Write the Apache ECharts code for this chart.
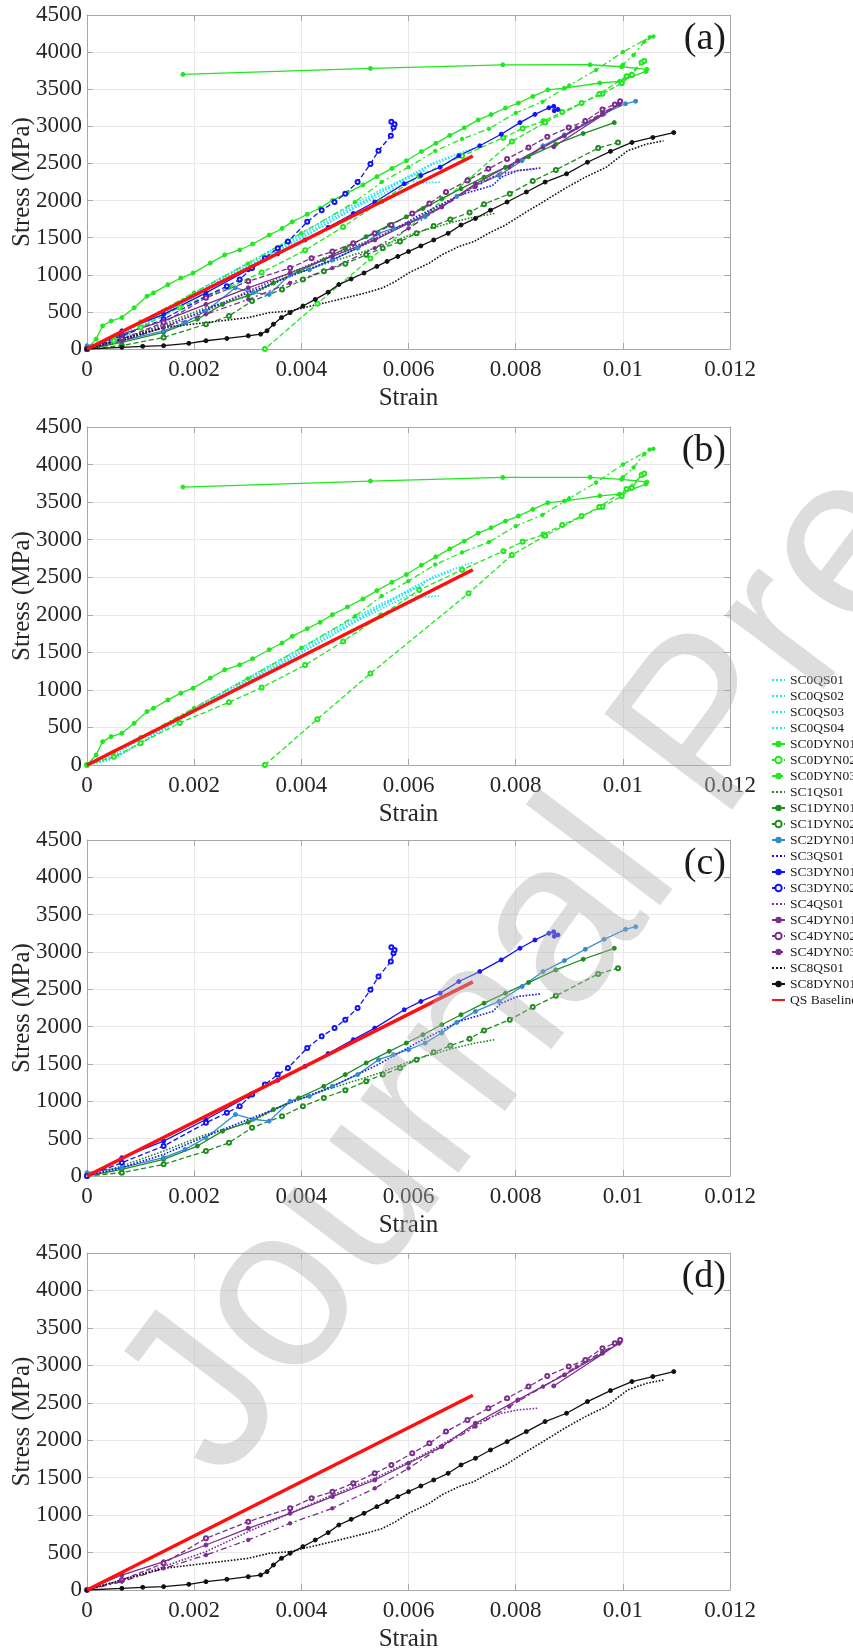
<!DOCTYPE html>
<html>
<head>
<meta charset="utf-8">
<script src="https://cdn.jsdelivr.net/npm/echarts@6/dist/echarts.min.js"></script>
<style>
html,body{margin:0;padding:0;background:#fff;}
#chart{width:853px;height:1651px;}
.warm{position:absolute;left:-9999px;top:0;font-size:23px;}
</style>
</head>
<body>
<div class="warm" style="font-family:'Liberation Serif'">Strain 0.012 Stress (MPa) SC0DYN01 (a)</div>
<div class="warm" style="font-family:'Liberation Sans'">Journal Pre-proof</div>
<div id="chart"></div>
<script>
const xTickValues = [0,0.002,0.004,0.006,0.008,0.01,0.012];
const xTickLabels = ['0','0.002','0.004','0.006','0.008','0.01','0.012'];
const yTickValues = [0,500,1000,1500,2000,2500,3000,3500,4000,4500];
const yTickLabels = ['0','500','1000','1500','2000','2500','3000','3500','4000','4500'];
const panelLabels = ['(a)','(b)','(c)','(d)'];
const seriesNames = ['SC0QS01','SC0QS02','SC0QS03','SC0QS04','SC0DYN01','SC0DYN02','SC0DYN03',
  'SC1QS01','SC1DYN01','SC1DYN02','SC2DYN01','SC3QS01','SC3DYN01','SC3DYN02',
  'SC4QS01','SC4DYN01','SC4DYN02','SC4DYN03','SC8QS01','SC8DYN01','QS Baseline'];

const SC0QS01 = [[0,0],[0.0004,60],[0.0008,210],[0.0012,390],[0.0016,560],[0.002,740],[0.0025,940],[0.003,1130],[0.0035,1330],[0.004,1530],[0.0045,1730],[0.005,1930],[0.0055,2120],[0.006,2330],[0.0065,2520],[0.0072,2700]];
const SC0QS02 = [[0,0],[0.0005,90],[0.001,290],[0.0015,510],[0.002,710],[0.0025,910],[0.003,1110],[0.0035,1300],[0.004,1500],[0.0045,1700],[0.005,1900],[0.0055,2080],[0.006,2260],[0.0063,2240],[0.0066,2250]];
const SC0QS03 = [[0,0],[0.0006,120],[0.0012,380],[0.0018,630],[0.0024,870],[0.003,1100],[0.0036,1340],[0.0042,1570],[0.0048,1820],[0.0054,2080],[0.006,2300],[0.0064,2470],[0.0068,2580]];
const SC0QS04 = [[0,0],[0.0005,130],[0.001,340],[0.0015,550],[0.002,760],[0.0025,960],[0.003,1160],[0.0035,1360],[0.004,1560],[0.0045,1760],[0.005,1960],[0.0055,2150],[0.006,2320],[0.0063,2400]];
const SC0DYN01 = [[0,0],[0.00017,133],[0.00029,311],[0.00045,378],[0.00065,423],[0.00088,556],[0.00112,712],[0.00124,756],[0.00151,867],[0.00175,956],[0.00198,1023],[0.0023,1157],[0.00257,1268],[0.00285,1334],[0.00309,1415],[0.0034,1535],[0.00364,1624],[0.00383,1713],[0.00411,1815],[0.00435,1900],[0.00458,2002],[0.00486,2104],[0.00515,2211],[0.00541,2322],[0.00569,2433],[0.00596,2536],[0.00624,2660],[0.00651,2771],[0.00677,2878],[0.00704,2980],[0.0073,3087],[0.00754,3158],[0.00781,3247],[0.00805,3314],[0.00832,3403],[0.0086,3492],[0.00891,3514],[0.00957,3584],[0.00994,3606],[0.01043,3740],[0.01045,3768],[0.00998,3803],[0.00939,3830],[0.00776,3829],[0.00529,3780],[0.00179,3700]];
const SC0DYN02 = [[0,0],[0.0005,110],[0.001,290],[0.00173,560],[0.00265,835],[0.00326,1031],[0.00407,1330],[0.00478,1645],[0.00549,1990],[0.0062,2330],[0.007,2600],[0.00777,2847],[0.00813,2972],[0.00852,3069],[0.00887,3194],[0.00923,3314],[0.00962,3438],[0.00998,3581],[0.01017,3692],[0.01035,3860],[0.0104,3880],[0.01007,3674],[0.00956,3436],[0.00855,3052],[0.00793,2796],[0.00712,2285],[0.00529,1219],[0.0043,610],[0.00332,0]];
const SC0DYN03 = [[0,0],[0.0005,170],[0.001,370],[0.002,760],[0.003,1150],[0.004,1560],[0.005,1980],[0.0055,2250],[0.006,2450],[0.0065,2668],[0.007,2830],[0.0075,2967],[0.008,3180],[0.0085,3330],[0.009,3550],[0.0095,3760],[0.01,4000],[0.0105,4200],[0.01057,4210],[0.0104,4140],[0.0102,3960],[0.01,3830]];
const SC1QS01 = [[0,0],[0.00065,134],[0.00143,334],[0.00222,557],[0.00301,712],[0.00379,988],[0.00458,1180],[0.00537,1358],[0.00615,1567],[0.00678,1700],[0.00725,1781],[0.00761,1826]];
const SC1DYN01 = [[0,0],[0.00065,89],[0.00143,223],[0.00206,401],[0.00253,601],[0.00301,721],[0.00348,890],[0.00395,1046],[0.00442,1202],[0.00482,1358],[0.00521,1514],[0.00564,1670],[0.00596,1781],[0.00627,1892],[0.00662,2026],[0.00698,2160],[0.00741,2315],[0.00781,2449],[0.00824,2591],[0.00875,2760],[0.00926,2903],[0.00984,3050]];
const SC1DYN02 = [[0,0],[0.00065,45],[0.00143,156],[0.00222,334],[0.00265,445],[0.00308,646],[0.00364,801],[0.00403,935],[0.00442,1046],[0.00482,1149],[0.00521,1269],[0.00552,1358],[0.00584,1447],[0.00615,1558],[0.00647,1656],[0.00678,1745],[0.00714,1839],[0.00741,1950],[0.00789,2093],[0.00832,2262],[0.00875,2413],[0.00954,2707],[0.00991,2783]];
const SC2DYN01 = [[0,45],[0.00065,111],[0.00143,245],[0.00183,356],[0.00222,512],[0.00277,824],[0.0031,760],[0.0034,735],[0.00379,1002],[0.00415,1068],[0.00458,1202],[0.00505,1358],[0.00544,1558],[0.00572,1625],[0.006,1692],[0.00631,1781],[0.00662,1915],[0.0069,2057],[0.00725,2204],[0.00769,2338],[0.00812,2538],[0.00851,2738],[0.00891,2885],[0.0093,3037],[0.00965,3170],[0.01005,3304],[0.01024,3339]];
const SC3QS01 = [[0,0],[0.00065,111],[0.00143,289],[0.00222,534],[0.00301,757],[0.0038,980],[0.00458,1202],[0.0054,1480],[0.00615,1781],[0.00694,2070],[0.00757,2204],[0.00773,2315],[0.00804,2404],[0.00847,2440]];
const SC3DYN01 = [[0,0],[0.00065,245],[0.00143,467],[0.00222,757],[0.00301,1068],[0.00356,1282],[0.00407,1469],[0.0045,1639],[0.00497,1826],[0.00537,1981],[0.00592,2226],[0.00623,2338],[0.00659,2449],[0.00694,2605],[0.00733,2738],[0.00773,2894],[0.00808,3050],[0.00836,3161],[0.00862,3250],[0.00871,3270],[0.00879,3228],[0.00872,3210]];
const SC3DYN02 = [[0,0],[0.00065,178],[0.00143,401],[0.00222,712],[0.00261,846],[0.00285,935],[0.00308,1091],[0.00332,1224],[0.00356,1358],[0.00375,1447],[0.00411,1714],[0.00438,1870],[0.00462,1981],[0.00482,2093],[0.00505,2249],[0.00529,2493],[0.00544,2671],[0.00567,2872],[0.00572,2983],[0.00574,3028],[0.00568,3063]];
const SC4QS01 = [[0,0],[0.00065,134],[0.00143,312],[0.00222,512],[0.00301,779],[0.00379,1024],[0.00458,1269],[0.00537,1492],[0.00615,1759],[0.00655,1915],[0.00694,2070],[0.00741,2271],[0.00773,2360],[0.00804,2404],[0.0084,2427]];
const SC4DYN01 = [[0,0],[0.00065,200],[0.00143,378],[0.00222,601],[0.00301,824],[0.00379,1024],[0.00458,1247],[0.00537,1469],[0.006,1692],[0.00662,1915],[0.00725,2226],[0.00804,2538],[0.00891,2872],[0.00962,3161],[0.00993,3295],[0.00995,3320],[0.00871,2725]];
const SC4DYN02 = [[0,0],[0.00065,134],[0.00143,356],[0.00222,690],[0.00301,913],[0.00379,1091],[0.00419,1224],[0.00458,1313],[0.00497,1425],[0.00537,1558],[0.00568,1670],[0.00607,1826],[0.00639,1959],[0.0067,2115],[0.0071,2271],[0.00749,2427],[0.00784,2560],[0.00824,2716],[0.00859,2858],[0.00899,2983],[0.0093,3072],[0.00962,3228],[0.00985,3295],[0.00995,3339]];
const SC4DYN03 = [[0,0],[0.00065,111],[0.00143,289],[0.00222,467],[0.00301,668],[0.00379,890],[0.00458,1091],[0.00537,1358],[0.006,1625],[0.00662,1915],[0.00725,2182],[0.00788,2449],[0.00851,2716],[0.00914,2983],[0.00962,3183],[0.00993,3295]];
const SC8QS01 = [[0,0],[0.00065,134],[0.00143,289],[0.00222,356],[0.00301,423],[0.0034,490],[0.00379,512],[0.00458,646],[0.00521,757],[0.00552,824],[0.00576,913],[0.006,1024],[0.00639,1158],[0.00662,1269],[0.00694,1380],[0.00722,1447],[0.00749,1558],[0.00781,1670],[0.0082,1848],[0.00851,1981],[0.00891,2159],[0.0093,2315],[0.00969,2449],[0.01009,2672],[0.01044,2760],[0.01076,2805]];
const SC8DYN01 = [[0,0],[0.00065,22],[0.00104,36],[0.00143,45],[0.0019,76],[0.00222,111],[0.00261,142],[0.00301,178],[0.00324,200],[0.00336,245],[0.00348,334],[0.00363,423],[0.00379,490],[0.00403,579],[0.00426,668],[0.0045,766],[0.0047,868],[0.00493,944],[0.00517,1024],[0.00541,1113],[0.0056,1180],[0.0058,1247],[0.006,1313],[0.00623,1389],[0.00647,1469],[0.00674,1558],[0.00698,1670],[0.00725,1759],[0.00753,1870],[0.00784,1981],[0.0082,2115],[0.00855,2249],[0.00895,2360],[0.00934,2516],[0.00977,2663],[0.01017,2783],[0.01056,2850],[0.01095,2916]];
const QSBaseline = [[0,0],[0.0072,2600]];

const seriesData = {SC0QS01,SC0QS02,SC0QS03,SC0QS04,SC0DYN01,SC0DYN02,SC0DYN03,SC1QS01,SC1DYN01,SC1DYN02,SC2DYN01,SC3QS01,SC3DYN01,SC3DYN02,SC4QS01,SC4DYN01,SC4DYN02,SC4DYN03,SC8QS01,SC8DYN01,'QS Baseline':QSBaseline};

const groupColor = {SC0QS:'#22e4f2', SC0DYN:'#1ee81e', SC1:'#1f8c1f', SC2:'#2f8ccc', SC3:'#1212f5', SC4:'#7b2d8e', SC8:'#111111'};
function styleFor(name){
  if(name==='QS Baseline') return {color:'#ff1010', type:'solid', width:3.5, symbol:'none'};
  let color;
  if(name.startsWith('SC0QS')) color=groupColor.SC0QS;
  else if(name.startsWith('SC0')) color=groupColor.SC0DYN;
  else color=groupColor[name.slice(0,3)];
  if(name.includes('QS')) return {color, type:'dotted', width:1.6, symbol:'none'};
  if(name.endsWith('DYN01')) return {color, type:'solid', width:1.3, symbol:'circle', size:4};
  if(name.endsWith('DYN02')) return {color, type:'dashed', width:1.3, symbol:'emptyCircle', size:4};
  return {color, type:[6,3,2,3], width:1.3, symbol:'circle', size:3.5};
}
const panelMembers = [
  seriesNames,
  seriesNames.filter(n=>n.startsWith('SC0')||n==='QS Baseline'),
  seriesNames.filter(n=>n.startsWith('SC1')||n.startsWith('SC2')||n.startsWith('SC3')||n==='QS Baseline'),
  seriesNames.filter(n=>n.startsWith('SC4')||n.startsWith('SC8')||n==='QS Baseline')
];
const gridBoxes = [
  {left:87, top:15, width:643, height:334},
  {left:87, top:427, width:643, height:338},
  {left:87, top:840, width:643, height:336},
  {left:87, top:1253, width:643, height:337}
];

const serif = 'Liberation Serif';
const boxColor = '#a8a8a8';
const textColor = '#262626';

function baseOption(){
  const grids=[], xAxes=[], yAxes=[], series=[];
  gridBoxes.forEach((g,i)=>{
    grids.push(Object.assign({containLabel:false}, g));
    xAxes.push({type:'value', gridIndex:i, min:0, max:0.012, interval:0.002, position:'bottom',
      axisLine:{show:true, onZero:false, lineStyle:{color:boxColor}},
      axisTick:{show:true, inside:true, length:6, lineStyle:{color:boxColor}},
      axisLabel:{show:false},
      splitLine:{show:true, lineStyle:{color:'#e9e9e9'}}});
    xAxes.push({type:'value', gridIndex:i, min:0, max:0.012, interval:0.002, position:'top',
      axisLine:{show:true, onZero:false, lineStyle:{color:boxColor}},
      axisTick:{show:true, inside:true, length:6, lineStyle:{color:boxColor}},
      axisLabel:{show:false}, splitLine:{show:false}});
    yAxes.push({type:'value', gridIndex:i, min:0, max:4500, interval:500, position:'left',
      axisLine:{show:true, onZero:false, lineStyle:{color:boxColor}},
      axisTick:{show:true, inside:true, length:6, lineStyle:{color:boxColor}},
      axisLabel:{show:false},
      splitLine:{show:true, lineStyle:{color:'#e9e9e9'}}});
    yAxes.push({type:'value', gridIndex:i, min:0, max:4500, interval:500, position:'right',
      axisLine:{show:true, onZero:false, lineStyle:{color:boxColor}},
      axisTick:{show:true, inside:true, length:6, lineStyle:{color:boxColor}},
      axisLabel:{show:false}, splitLine:{show:false}});
    panelMembers[i].forEach(name=>{
      const s = styleFor(name);
      series.push({name, type:'line', xAxisIndex:2*i, yAxisIndex:2*i,
        data: seriesData[name], symbol:s.symbol, symbolSize:s.size||0, showSymbol:s.symbol!=='none',
        lineStyle:{color:s.color, width:s.width, type:s.type},
        itemStyle:{color:s.color, borderColor:s.color},
        emphasis:{disabled:true}, animation:false, z: name==='QS Baseline'?5:3, clip:true});
    });
  });
  const legendData = seriesNames.map(n=>{
    const s = styleFor(n);
    return s.symbol==='none' ? {name:n, itemStyle:{opacity:0}} : {name:n};
  });
  return {
    animation:false,
    backgroundColor:'#ffffff',
    textStyle:{fontFamily:serif},
    grid:grids, xAxis:xAxes, yAxis:yAxes, series,
    legend:{orient:'vertical', left:766, top:668, itemWidth:13, itemHeight:8, itemGap:2,
      data:legendData,
      textStyle:{fontFamily:serif, fontSize:13.5, color:'#1a1a1a', lineHeight:14}}
  };
}

// axis texts are placed through the chart's own scales (convertToPixel)
function textGraphics(chart){
  const gr=[];
  gridBoxes.forEach((b,i)=>{
    const xb = chart.convertToPixel({yAxisIndex:2*i}, 0);
    const xl = chart.convertToPixel({xAxisIndex:2*i}, 0);
    xTickValues.forEach((v,k)=>{
      gr.push({type:'text', z:40, silent:true, x:chart.convertToPixel({xAxisIndex:2*i}, v), y:xb+9,
        style:{text:xTickLabels[k], fontFamily:serif, fontSize:23, fill:textColor, align:'center', verticalAlign:'top'}});
    });
    yTickValues.forEach((v,k)=>{
      gr.push({type:'text', z:40, silent:true, x:xl-5, y:chart.convertToPixel({yAxisIndex:2*i}, v),
        style:{text:yTickLabels[k], fontFamily:serif, fontSize:23, fill:textColor, align:'right', verticalAlign:'middle'}});
    });
    gr.push({type:'text', z:40, silent:true, x:chart.convertToPixel({xAxisIndex:2*i}, 0.006), y:xb+49,
      style:{text:'Strain', fontFamily:serif, fontSize:25, fill:textColor, align:'center', verticalAlign:'middle'}});
    gr.push({type:'text', z:40, silent:true, x:xl-65, y:chart.convertToPixel({yAxisIndex:2*i}, 2250), rotation:Math.PI/2,
      style:{text:'Stress (MPa)', fontFamily:serif, fontSize:25, fill:textColor, align:'center', verticalAlign:'middle'}});
    gr.push({type:'text', z:50, silent:true, x:chart.convertToPixel({xAxisIndex:2*i}, 0.012)-4,
      y:chart.convertToPixel({yAxisIndex:2*i}, 4500)+24,
      style:{text:panelLabels[i], fontFamily:serif, fontSize:38, fill:'#1a1a1a', align:'right', verticalAlign:'middle'}});
  });
  gr.push({type:'text', x:712, y:730, rotation:53*Math.PI/180, z:100, silent:true,
    style:{text:'Journal Pre-proof', fontFamily:'Liberation Sans', fontSize:232,
      fill:'rgba(175,175,175,0.42)', align:'center', verticalAlign:'middle'}});
  return gr;
}

(function(){
  const c=document.createElement('canvas'); const ctx=c.getContext('2d');
  ctx.font='23px "Liberation Serif"'; ctx.fillText('Strain 0.012',0,20);
  ctx.font='40px "Liberation Sans"'; ctx.fillText('Journal',0,40);
})();

const chart = echarts.init(document.getElementById('chart'), null, {renderer:'canvas'});
chart.setOption(baseOption());
chart.setOption({graphic:textGraphics(chart)});
</script>
</body>
</html>
